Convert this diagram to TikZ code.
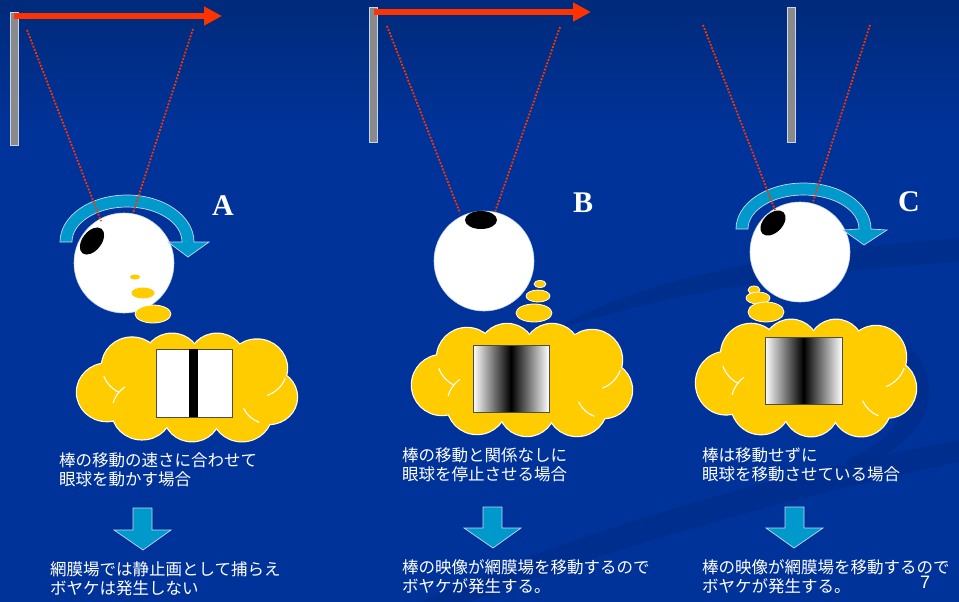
\documentclass[tikz,border=0pt]{standalone}
\usepackage{fontspec}
\newfontfamily\jp{Noto Sans CJK JP}
\newfontfamily\lbl{Liberation Serif}
\newfontfamily\num{Liberation Sans}
\usetikzlibrary{shapes.geometric,arrows.meta}
\definecolor{bgblue}{HTML}{003399}
\definecolor{bgtop}{HTML}{002A7A}
\definecolor{swoosh}{HTML}{002C88}
\definecolor{motion}{HTML}{FF3300}
\definecolor{turn}{HTML}{0099CC}
\definecolor{thought}{HTML}{FFCC00}
\definecolor{rod}{HTML}{8A8A8A}
\definecolor{rim}{HTML}{C9D6EE}
% thought cloud around the current origin: a union of round puffs with a white rim,
% then a few seams where puffs overlap
\newcommand\puffcloud{%
  \foreach \cx/\cy/\cr in {-80/5/30,-55/-22/30,-15/-28/28,30/-28/28,70/-20/30,
                           82/10/28,55/26/30,5/28/28,-45/24/30}
    {\filldraw[fill=thought,draw=white,line width=2.4pt] (\cx,\cy) circle[radius=\cr pt];}
  \fill[thought] (0,0) ellipse[x radius=92pt,y radius=42pt];
  \foreach \cx/\cy/\cr in {-80/5/30,-55/-22/30,-15/-28/28,30/-28/28,70/-20/30,
                           82/10/28,55/26/30,5/28/28,-45/24/30}
    {\fill[thought] (\cx,\cy) circle[radius=\cr pt];}
  \draw[seam] (-55,-22) ++(200:30pt) arc[start angle=200,end angle=245,radius=30pt];
  \draw[seam] (70,-20) ++(290:30pt) arc[start angle=290,end angle=340,radius=30pt];
  \draw[seam] (82,10) ++(205:28pt) arc[start angle=205,end angle=250,radius=28pt];
  \draw[seam] (-45,24) ++(125:30pt) arc[start angle=125,end angle=165,radius=30pt];
  \draw[seam] (-15,-28) ++(315:28pt) arc[start angle=315,end angle=345,radius=28pt];
}
\begin{document}
\begin{tikzpicture}[x=1pt,y=-1pt,
  rodbar/.style={rectangle,draw=rim,line width=0.8pt,fill=rod,minimum width=8pt,inner sep=0pt},
  motionarrow/.style={draw=motion,line width=6pt,-{Triangle[length=18pt,width=18pt]}},
  sight/.style={draw=motion,line width=1.8pt,dash pattern=on 1.8pt off 1.6pt},
  eyeball/.style={circle,fill=white,draw=rim,line width=0.6pt,minimum size=100pt,inner sep=0pt},
  pupil/.style={ellipse,fill=black,inner sep=0pt},
  turnarrow/.style={fill=turn,draw=rim,line width=0.7pt,line join=miter},
  downarrow/.style={fill=turn,draw=rim,line width=0.7pt,line join=miter},
  bubble/.style={ellipse,fill=thought,draw=white,line width=0.8pt,inner sep=0pt},
  seam/.style={draw=white,line width=1.1pt},
  retina/.style={rectangle,draw=black!70,line width=0.8pt,inner sep=0pt},
  caption/.style={anchor=base west,inner sep=0pt,text=white,font=\jp\fontsize{16.5}{19}\selectfont},
  tag/.style={text=white,font=\lbl\bfseries\fontsize{30}{30}\selectfont,inner sep=0pt,anchor=base}]

% backdrop
\fill[bgblue] (0,0) rectangle (959,602);
\shade[top color=bgtop,bottom color=bgblue] (0,0) rectangle (959,130);
\useasboundingbox (0,0) rectangle (959,602);
\fill[swoosh,opacity=0.7] (545,335) .. controls (640,275) and (800,250) .. (959,238)
  -- (959,262) .. controls (800,272) and (650,295) .. (545,335) -- cycle;
\fill[swoosh,opacity=0.6] (420,602) .. controls (600,520) and (800,470) .. (959,440)
  -- (959,462) .. controls (800,495) and (620,545) .. (470,602) -- cycle;
\fill[swoosh,opacity=0.6] (855,320) .. controls (960,345) and (950,440) .. (850,470)
  -- (845,460) .. controls (925,430) and (925,360) .. (850,332) -- cycle;

% ---------- A ----------
\node[rodbar,minimum height=133pt] (rodA) at (14,78.5) {};
\coordinate (mA0) at (14,16);
\coordinate (mA1) at (222,16);
\draw[motionarrow] (mA0) -- (mA1);
\node[eyeball] (eyeA) at (124,263) {};
\node[pupil,minimum width=31pt,minimum height=19pt,rotate=52] (pupA) at (92,241) {};
\filldraw[turnarrow] (60,242) arc[start angle=180,end angle=0,x radius=67pt,y radius=47pt]
  -- (209,242) -- (188,257) -- (168,242) -- (182,242)
  arc[start angle=0,end angle=180,x radius=55pt,y radius=35pt] -- cycle;
\coordinate (sA1) at (27,30);
\coordinate (sA2) at (193,29);
\coordinate (fA1) at (101,221);
\coordinate (fA2) at (133,213);
\draw[sight] (sA1) -- (fA1);
\draw[sight] (sA2) -- (fA2);
\node[tag] (tagA) at (223,215) {A};
\node[bubble,draw=none,minimum width=10pt,minimum height=5pt] (bA1) at (135,277) {};
\node[bubble,draw=none,minimum width=23pt,minimum height=11pt] (bA2) at (143,293) {};
\node[bubble,minimum width=36pt,minimum height=18pt] (bA3) at (153,314) {};
\begin{scope}[shift={(187,387.5)},yscale=0.96]
  \puffcloud
\end{scope}
\node[retina,fill=white,minimum width=76pt,minimum height=68pt] (imgA) at (194,383) {};
\fill[black] (189,349) rectangle (198,417);
\node[caption] (tA1) at (59,466) {棒の移動の速さに合わせて};
\node[caption] (tA2) at (59,485) {眼球を動かす場合};
\draw[downarrow] (133,508) -- (152,508) -- (152,530) -- (171,530) -- (143,550)
  -- (114,530) -- (133,530) -- cycle;
\node[caption] (tA3) at (50,575) {網膜場では静止画として捕らえ};
\node[caption] (tA4) at (50,594) {ボヤケは発生しない};

% ---------- B ----------
\node[rodbar,minimum height=135pt] (rodB) at (373.5,74.5) {};
\coordinate (mB0) at (374,12);
\coordinate (mB1) at (591,12);
\draw[motionarrow] (mB0) -- (mB1);
\node[eyeball] (eyeB) at (484,261) {};
\node[pupil,minimum width=32pt,minimum height=18pt] (pupB) at (481,220) {};
\coordinate (sB1) at (387,26);
\coordinate (sB2) at (560,27);
\coordinate (fB1) at (460,213);
\coordinate (fB2) at (495,212);
\draw[sight] (sB1) -- (fB1);
\draw[sight] (sB2) -- (fB2);
\node[tag] (tagB) at (583,212) {B};
\node[bubble,minimum width=12pt,minimum height=7pt] (bB1) at (540,284) {};
\node[bubble,minimum width=24pt,minimum height=12pt] (bB2) at (538,296) {};
\node[bubble,minimum width=36pt,minimum height=18pt] (bB3) at (534,313) {};
\begin{scope}[shift={(522,380)}]
  \puffcloud
\end{scope}
\shade[left color=white,right color=black] (473,345) rectangle (511,412);
\shade[left color=black,right color=white] (511,345) rectangle (549,412);
\node[retina,minimum width=76pt,minimum height=67pt] (imgB) at (511,378.5) {};
\node[caption] (tB1) at (402,461) {棒の移動と関係なしに};
\node[caption] (tB2) at (402,480) {眼球を停止させる場合};
\draw[downarrow] (483,507) -- (502,507) -- (502,528) -- (521,528) -- (493,548)
  -- (464,528) -- (483,528) -- cycle;
\node[caption] (tB3) at (402,573) {棒の映像が網膜場を移動するので};
\node[caption] (tB4) at (402,592) {ボヤケが発生する。};

% ---------- C ----------
\node[rodbar,minimum height=135pt] (rodC) at (791.5,74.5) {};
\node[eyeball] (eyeC) at (800,252) {};
\node[pupil,minimum width=30pt,minimum height=19pt,rotate=45] (pupC) at (773,223) {};
\filldraw[turnarrow] (736,229) arc[start angle=180,end angle=0,x radius=67.5pt,y radius=46pt]
  -- (887,230) -- (864,245) -- (843,230) -- (859,229)
  arc[start angle=0,end angle=180,x radius=55.5pt,y radius=34pt] -- cycle;
\coordinate (sC1) at (703,25);
\coordinate (sC2) at (870,25);
\coordinate (fC1) at (775,210);
\coordinate (fC2) at (813,202);
\draw[sight] (sC1) -- (fC1);
\draw[sight] (sC2) -- (fC2);
\node[tag] (tagC) at (909,211) {C};
\node[bubble,minimum width=12pt,minimum height=8pt] (bC1) at (754,290) {};
\node[bubble,minimum width=24pt,minimum height=12pt] (bC2) at (758,298) {};
\node[bubble,minimum width=36pt,minimum height=20pt] (bC3) at (766,312) {};
\begin{scope}[shift={(806,378)},yscale=1.04]
  \puffcloud
\end{scope}
\shade[left color=white,right color=black] (765,337) rectangle (803.5,404);
\shade[left color=black,right color=white] (803.5,337) rectangle (842,404);
\node[retina,minimum width=77pt,minimum height=67pt] (imgC) at (803.5,370.5) {};
\node[caption] (tC1) at (702,461) {棒は移動せずに};
\node[caption] (tC2) at (702,480) {眼球を移動させている場合};
\draw[downarrow] (785,507) -- (804,507) -- (804,528) -- (823,528) -- (794,548)
  -- (766,528) -- (785,528) -- cycle;
\node[caption] (tC3) at (702,573) {棒の映像が網膜場を移動するので};
\node[caption] (tC4) at (702,592) {ボヤケが発生する。};

\node[text=white,font=\num\fontsize{18}{18}\selectfont,inner sep=0pt,anchor=base] (page) at (925,588) {7};
\end{tikzpicture}
\end{document}
